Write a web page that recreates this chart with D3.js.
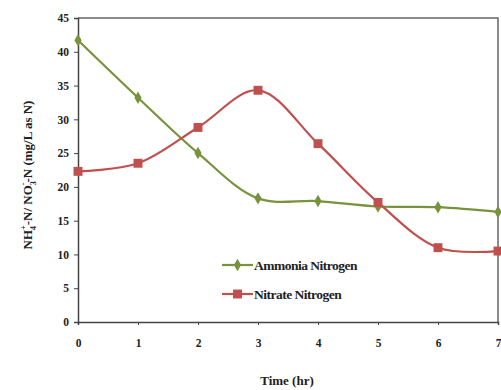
<!DOCTYPE html>
<html>
<head>
<meta charset="utf-8">
<script src="https://cdn.jsdelivr.net/npm/d3@7"></script>
<style>
  body { margin: 0; background: #fff; }
  text { font-family: "Liberation Serif", "Times New Roman", serif; font-weight: bold; fill: #222; }
</style>
</head>
<body>
<div id="chart"></div>
<script>
var hours = [0, 1, 2, 3, 4, 5, 6, 7];
var ammonia = [41.7, 33.2, 25.0, 18.3, 17.9, 17.1, 17.0, 16.3];
var nitrate = [22.3, 23.5, 28.8, 34.3, 26.4, 17.7, 11.0, 10.5];
var yTicks = [0, 5, 10, 15, 20, 25, 30, 35, 40, 45];

var svgWidth = 501;
var svgHeight = 390;
var margin = { top: 18, right: 3, bottom: 68, left: 78 };
var width = svgWidth - margin.left - margin.right;
var height = svgHeight - margin.top - margin.bottom;

var svg = d3.select("#chart").append("svg")
  .attr("width", svgWidth)
  .attr("height", svgHeight);

var chartGroup = svg.append("g")
  .attr("transform", `translate(${margin.left}, ${margin.top})`);

var x = d3.scaleLinear().domain([0, 7]).range([0, width]);
var y = d3.scaleLinear().domain([0, 45]).range([height, 0]);

// frame (top and right)
chartGroup.append("path")
  .attr("d", `M0,0H${width}V${height}`)
  .attr("fill", "none")
  .attr("stroke", "#666")
  .attr("stroke-width", 1.5);

// axes
var xAxis = chartGroup.append("g")
  .attr("transform", `translate(0, ${height})`)
  .call(d3.axisBottom(x).tickValues(hours).tickFormat(d3.format("d")).tickSize(3).tickPadding(14));

var yAxis = chartGroup.append("g")
  .call(d3.axisLeft(y).tickValues(yTicks).tickSize(4).tickPadding(5));

[xAxis, yAxis].forEach(function(a) {
  a.select(".domain").attr("stroke", "#444").attr("stroke-width", 1.5);
  a.selectAll(".tick line").attr("stroke", "#444");
  a.selectAll("text")
    .style("font-size", "11.5px")
    .style("font-family", "'Liberation Serif', serif")
    .style("font-weight", "bold")
    .attr("fill", "#222");
});

var series = [
  { name: "Ammonia Nitrogen", values: ammonia, color: "#77933C", marker: d3.symbolDiamond, size: 45 },
  { name: "Nitrate Nitrogen", values: nitrate, color: "#C0504D", marker: d3.symbolSquare, size: 80 }
];

var line = d3.line()
  .x(function(d, i) { return x(hours[i]); })
  .y(function(d) { return y(d); })
  .curve(d3.curveCatmullRom.alpha(0.5));

series.forEach(function(s) {
  chartGroup.append("path")
    .datum(s.values)
    .attr("d", line)
    .attr("fill", "none")
    .attr("stroke", s.color)
    .attr("stroke-width", 2.2);

  chartGroup.selectAll(null)
    .data(s.values)
    .enter()
    .append("path")
    .attr("d", d3.symbol().type(s.marker).size(s.size))
    .attr("transform", function(d, i) { return `translate(${x(hours[i])}, ${y(d)})`; })
    .attr("fill", s.color);
});

// legend
var legend = svg.append("g").attr("transform", "translate(222, 265)");
series.forEach(function(s, i) {
  var g = legend.append("g").attr("transform", `translate(0, ${i * 29})`);
  g.append("line")
    .attr("x1", 0).attr("x2", 31)
    .attr("stroke", s.color).attr("stroke-width", 2.2);
  g.append("path")
    .attr("d", d3.symbol().type(s.marker).size(s.size))
    .attr("transform", "translate(15.5, 0)")
    .attr("fill", s.color);
  g.append("text")
    .attr("x", 32).attr("y", 4.5)
    .style("font-size", "13.5px")
    .style("letter-spacing", "-0.5px")
    .text(s.name);
});

// axis titles
svg.append("text")
  .attr("x", 287).attr("y", 385)
  .attr("text-anchor", "middle")
  .style("font-size", "13px")
  .text("Time (hr)");

var yTitle = svg.append("text")
  .attr("transform", "translate(32, 175) rotate(-90)")
  .attr("text-anchor", "middle")
  .style("font-size", "13px");
yTitle.append("tspan").text("NH");
yTitle.append("tspan").attr("dy", 4).style("font-size", "8px").text("4");
yTitle.append("tspan").attr("dx", -4).attr("dy", -10).style("font-size", "8px").text("+");
yTitle.append("tspan").attr("dy", 6).text("-N/ NO");
yTitle.append("tspan").attr("dy", 4).style("font-size", "8px").text("3");
yTitle.append("tspan").attr("dx", -4).attr("dy", -10).style("font-size", "8px").text("-");
yTitle.append("tspan").attr("dy", 6).text("-N (mg/L as N)");
</script>
</body>
</html>
